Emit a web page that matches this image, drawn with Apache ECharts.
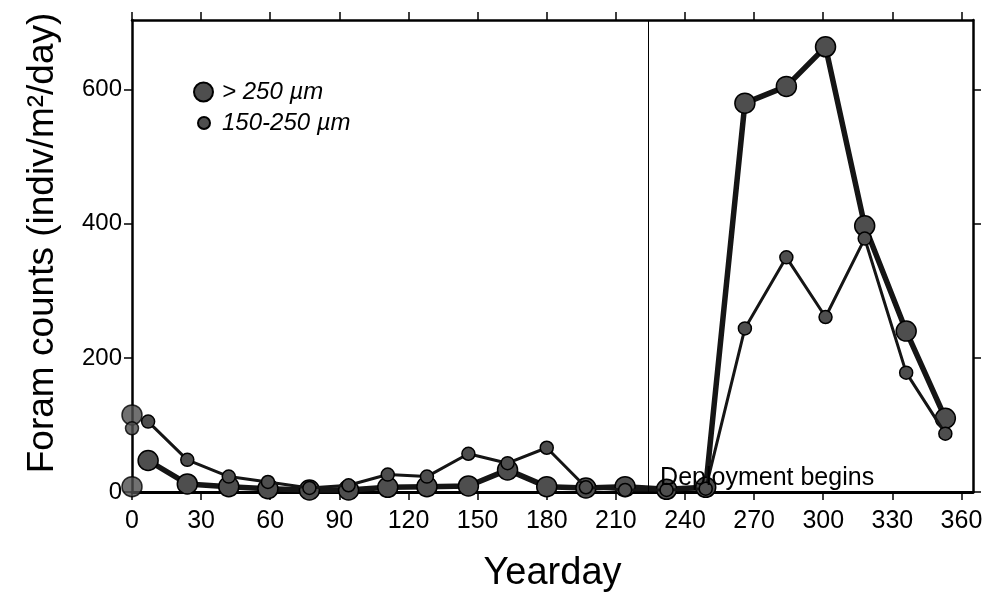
<!DOCTYPE html>
<html>
<head>
<meta charset="utf-8">
<script src="https://cdn.jsdelivr.net/npm/echarts@6/dist/echarts.min.js"></script>
<style>
html,body{margin:0;padding:0;background:#fff;}
#chart{width:990px;height:594px;}
</style>
</head>
<body>
<div id="chart"></div>
<script>
// Yearday of each sample
const yeardays = [7, 24, 42, 59, 77, 94, 111, 128, 146, 163, 180, 197, 214, 232, 249, 266, 284, 301, 318, 336, 353];
// > 250 µm counts (indiv/m2/day)
const large = [47, 12, 8, 5, 3, 3, 7, 8, 9, 33, 8, 6, 8, 4, 7, 580, 605, 664, 397, 240, 110];
// 150-250 µm counts
const small = [105, 48, 23, 15, 6, 10, 26, 23, 57, 43, 66, 7, 3, 3, 5, 244, 350, 261, 378, 178, 87];
// isolated points on the y axis (yearday 0)
const largeAtZero = [[0, 115], [0, 8]];
const smallAtZero = [[0, 95]];
const deploymentDay = 224;
const xTicks = [0, 30, 60, 90, 120, 150, 180, 210, 240, 270, 300, 330, 360];
const yTicks = [0, 200, 400, 600];

const FONT = 'Liberation Sans, Arial, Helvetica, sans-serif';
const pair = (xs, ys) => xs.map((x, i) => [x, ys[i]]);

const markerFill = '#4e4e4e';
const markerBorder = '#000';
const lineCol = '#151515';

const chart = echarts.init(document.getElementById('chart'), null, {renderer: 'canvas'});
chart.setOption({
  animation: false,
  backgroundColor: '#fff',
  grid: {left: 132, right: 17, top: 20, bottom: 102, containLabel: false, outerBoundsMode: 'none'},
  legend: [
    {
      data: [{name: '> 250 µm', icon: 'circle'}],
      left: 188, top: 75, itemWidth: 19, itemHeight: 19, itemGap: 0,
      selectedMode: false,
      textStyle: {fontFamily: FONT, fontSize: 24, fontStyle: 'italic', color: '#000', padding: [0, 0, 0, 4]}
    },
    {
      data: [{name: '150-250 µm', icon: 'circle'}],
      left: 192, top: 106, itemWidth: 12, itemHeight: 12, itemGap: 0,
      selectedMode: false,
      textStyle: {fontFamily: FONT, fontSize: 24, fontStyle: 'italic', color: '#000', padding: [0, 0, 0, 7]}
    }
  ],
  xAxis: [
    {
      type: 'value', min: 0, max: 365, position: 'bottom',
      name: 'Yearday', nameLocation: 'middle', nameGap: 63,
      nameTextStyle: {fontFamily: FONT, fontSize: 38, color: '#000'},
      axisLine: {show: true, onZero: false, lineStyle: {color: '#000', width: 3}},
      axisTick: {show: true, customValues: xTicks, length: 8, lineStyle: {color: '#000', width: 1.5}},
      axisLabel: {customValues: xTicks, fontFamily: FONT, fontSize: 25, color: '#000', margin: 17},
      splitLine: {show: false}
    },
    {
      type: 'value', min: 0, max: 365, position: 'top',
      axisLine: {show: true, onZero: false, lineStyle: {color: '#000', width: 2.5}},
      axisTick: {show: true, customValues: xTicks, length: 8, lineStyle: {color: '#000', width: 1.5}},
      axisLabel: {show: false},
      splitLine: {show: false}
    }
  ],
  yAxis: [
    {
      type: 'value', min: 0, max: 704, position: 'left',
      name: 'Foram counts (indiv/m²/day)', nameLocation: 'middle', nameGap: 71,
      nameTextStyle: {fontFamily: FONT, fontSize: 37, color: '#000', padding: [0, 0, 0, 26]},
      axisLine: {show: true, onZero: false, lineStyle: {color: '#000', width: 2.5}},
      axisTick: {show: true, customValues: yTicks, length: 8, lineStyle: {color: '#000', width: 1.5}},
      axisLabel: {customValues: yTicks, fontFamily: FONT, fontSize: 24, color: '#000', margin: 10},
      splitLine: {show: false}
    },
    {
      type: 'value', min: 0, max: 704, position: 'right',
      axisLine: {show: true, onZero: false, lineStyle: {color: '#000', width: 2.5}},
      axisTick: {show: true, customValues: yTicks, length: 8, lineStyle: {color: '#000', width: 1.5}},
      axisLabel: {show: false},
      splitLine: {show: false}
    }
  ],
  series: [
    {
      name: '150-250 µm', type: 'line', xAxisIndex: 0, yAxisIndex: 0,
      data: pair(yeardays, small),
      symbol: 'circle', symbolSize: 13, showAllSymbol: true,
      lineStyle: {color: lineCol, width: 3},
      itemStyle: {color: markerFill, borderColor: markerBorder, borderWidth: 1.5},
      z: 3
    },
    {
      name: '> 250 µm', type: 'line', xAxisIndex: 0, yAxisIndex: 0,
      data: pair(yeardays, large),
      symbol: 'circle', symbolSize: 20, showAllSymbol: true,
      lineStyle: {color: lineCol, width: 5.5},
      itemStyle: {color: markerFill, borderColor: markerBorder, borderWidth: 1.5},
      z: 2,
      markLine: {
        silent: true, symbol: ['none', 'none'],
        lineStyle: {color: '#000', width: 1, type: 'solid'},
        label: {show: false},
        data: [{xAxis: deploymentDay}]
      },
      markPoint: {
        silent: true, symbol: 'circle', symbolSize: 0,
        data: [{coord: [deploymentDay, 0]}],
        label: {
          show: true, formatter: 'Deployment begins', position: 'right',
          offset: [7, -14], fontFamily: FONT, fontSize: 25, color: '#000'
        }
      }
    },
    {
      name: 'large-y0', type: 'scatter', xAxisIndex: 0, yAxisIndex: 0,
      data: largeAtZero, symbol: 'circle', symbolSize: 20,
      itemStyle: {color: markerFill, borderColor: markerBorder, borderWidth: 1.5},
      z: 2
    },
    {
      name: 'small-y0', type: 'scatter', xAxisIndex: 0, yAxisIndex: 0,
      data: smallAtZero, symbol: 'circle', symbolSize: 13,
      itemStyle: {color: markerFill, borderColor: markerBorder, borderWidth: 1.5},
      z: 3
    }
  ]
});
</script>
</body>
</html>
